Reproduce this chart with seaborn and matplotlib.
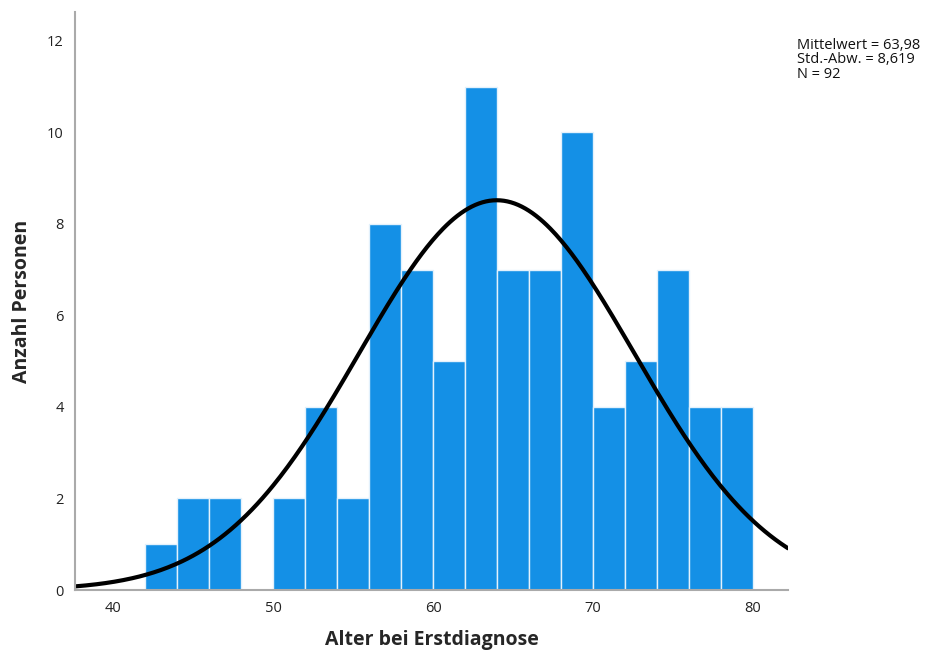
import numpy as np
import matplotlib
matplotlib.use("Agg")
import matplotlib.pyplot as plt
import seaborn as sns

sns.set_style("white")
plt.rcParams['font.family'] = ['Open Sans', 'DejaVu Sans']

# Histogram data (bins of width 2 years)
bin_edges = [42, 44, 46, 48, 50, 52, 54, 56, 58, 60, 62, 64, 66, 68, 70, 72, 74, 76, 78, 80]
counts = [1, 2, 2, 0, 2, 4, 2, 8, 7, 5, 11, 7, 7, 10, 4, 5, 7, 4, 4]
mean_age = 63.98
std_age = 8.619
n_total = 92
x_ticks = [40, 50, 60, 70, 80]
y_ticks = [0, 2, 4, 6, 8, 10, 12]

bin_mids = [(a + b) / 2 for a, b in zip(bin_edges[:-1], bin_edges[1:])]

fig = plt.figure(figsize=(9.38, 6.54), dpi=100)
ax = fig.add_axes([75 / 938, 64 / 654, (788 - 75) / 938, (590 - 12) / 654])

sns.histplot(x=bin_mids, weights=counts, bins=bin_edges, ax=ax,
             color="#1490e6", alpha=1, edgecolor="#e3f1fc", linewidth=1.0)

# Normal curve scaled to counts
xlim = (37.6, 82.2)
xs = np.linspace(xlim[0], xlim[1], 400)
binw = 2
pdf = np.exp(-0.5 * ((xs - mean_age) / std_age) ** 2) / (std_age * np.sqrt(2 * np.pi))
sns.lineplot(x=xs, y=pdf * n_total * binw, ax=ax, color="black", linewidth=3)

ax.set_xlim(*xlim)
ax.set_ylim(0, 12.63)
ax.set_xticks(x_ticks)
ax.set_yticks(y_ticks)
ax.tick_params(length=0, labelsize=10.5, colors="#222222", pad=8)
ax.set_xlabel("Alter bei Erstdiagnose", fontsize=14, fontweight="bold")
ax.set_ylabel("Anzahl Personen", fontsize=14, fontweight="bold")
ax.xaxis.set_label_coords(0.5, -50 / 578)
ax.yaxis.set_label_coords(-53 / 713, 0.5)
ax.xaxis.label.set_va("center")
ax.yaxis.label.set_va("center")

for side in ["top", "right"]:
    ax.spines[side].set_visible(False)
for side in ["left", "bottom"]:
    ax.spines[side].set_color("#aaaaaa")
    ax.spines[side].set_linewidth(1.5)

fig.text(797 / 938, 1 - 38 / 654, "Mittelwert = 63,98\nStd.-Abw. = 8,619\nN = 92",
         fontsize=10.5, va="top", ha="left", linespacing=0.95, color="#111111")

fig.savefig("out.png", dpi=100)
